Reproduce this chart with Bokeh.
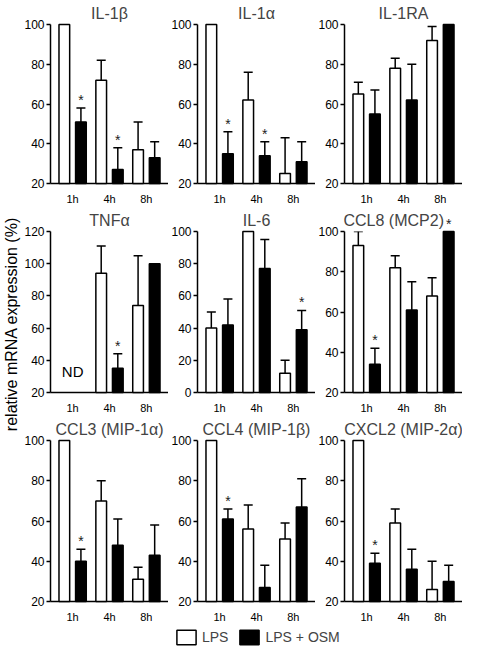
import math
from bokeh.plotting import figure
from bokeh.models import (ColumnDataSource, FactorRange, Range1d, FixedTicker,
                          Whisker, TeeHead, Legend, LegendItem, Title)
from bokeh.transform import dodge
from bokeh.layouts import column, row
from bokeh.core.properties import value
from bokeh.embed import file_html
from bokeh.resources import INLINE

nan = float("nan")

# ---------------- data ----------------
times = ["1h", "4h", "8h"]
genes = ["IL-1β", "IL-1α", "IL-1RA",
         "TNFα", "IL-6", "CCL8 (MCP2)",
         "CCL3 (MIP-1α)", "CCL4 (MIP-1β)", "CXCL2 (MIP-2α)"]

lps_mean = [[100, 72, 37], [100, 62, 25], [65, 78, 92],
            [nan, 94, 74], [40, 100, 12], [93, 82, 68],
            [100, 70, 31], [100, 56, 51], [100, 59, 26]]
lps_upper = [[nan, 82, 51], [nan, 76, 43], [71, 83, 99],
             [nan, 111, 105], [50, nan, 20], [100, 88, 77],
             [nan, 80, 37], [nan, 68, 59], [nan, 66, 40]]
osm_mean = [[51, 27, 33], [35, 34, 31], [55, 62, 100],
            [nan, 35, 100], [42, 77, 39], [34, 61, 100],
            [40, 48, 43], [61, 27, 67], [39, 36, 30]]
osm_upper = [[58, 38, 41], [46, 41, 41], [67, 80, nan],
             [nan, 44, nan], [58, 95, 51], [42, 75, nan],
             [46, 61, 58], [66, 38, 81], [44, 46, 38]]
osm_sig = [[1, 1, 0], [1, 1, 0], [0, 0, 0],
           [0, 1, 0], [0, 0, 1], [1, 0, 1],
           [1, 0, 0], [1, 0, 0], [1, 0, 0]]
y_min = [20, 20, 20, 20, 0, 20, 20, 20, 20]
y_max = [100, 100, 100, 120, 100, 100, 100, 100, 100]
y_step = 20

nd_gene_index = 3
nd_time = "1h"
nd_value = 33
nd_text = "ND"
sig_mark = "*"
series_labels = ["LPS", "LPS + OSM"]
y_title = "relative mRNA expression (%)"

# ---------------- style ----------------
FONT = "Liberation Sans"
FW, FH = 120, 167
LABEL_W = 21
BORDER_L = [27, 27, 27]
TOP = [22, 24, 24]
BOTTOM = 18
TITLE_ALIGN = ["center"] * 5 + ["left"] + ["center"] * 3
TITLE_OFFSET = [0, 0, 0, 0, 0, -1, 0, 0, 0]
OFF = 0.225
BW = 0.29
LW = 1.5


def fin(v):
    return v is not None and not (isinstance(v, float) and math.isnan(v))


def make_panel(i):
    r, c = divmod(i, 3)
    p = figure(width=BORDER_L[c] + FW, height=TOP[r] + FH + BOTTOM,
               x_range=FactorRange(factors=times, range_padding=0.1,
                                   range_padding_units="absolute"),
               y_range=Range1d(y_min[i], y_max[i]),
               output_backend="svg", toolbar_location=None,
               min_border_left=BORDER_L[c], min_border_right=0,
               min_border_top=TOP[r], min_border_bottom=BOTTOM,
               title=genes[i])
    p.title.text_font = FONT
    p.title.text_font_size = "16px"
    p.title.text_font_style = "normal"
    p.title.align = TITLE_ALIGN[i]
    p.title.standoff = 5
    p.title.offset = TITLE_OFFSET[i]
    p.xgrid.visible = False
    p.ygrid.visible = False
    p.outline_line_color = None
    p.background_fill_color = "white"

    for ax in (p.xaxis[0], p.yaxis[0]):
        ax.axis_line_color = "black"
        ax.axis_line_width = LW
        ax.minor_tick_line_color = None
        ax.major_label_text_font = FONT
        ax.major_label_text_color = "black"
    p.xaxis.major_tick_line_color = None
    p.xaxis.major_label_text_font_size = "11px"
    p.xaxis.major_label_standoff = 3
    p.yaxis.major_label_text_font_size = "12px"
    p.yaxis.major_tick_line_color = "black"
    p.yaxis.major_tick_line_width = LW
    p.yaxis.major_tick_in = 0
    p.yaxis.major_tick_out = 4
    p.yaxis.major_label_standoff = 2
    p.yaxis.ticker = FixedTicker(ticks=list(range(y_min[i], y_max[i] + 1, y_step)))

    for means, uppers, off, fill in ((lps_mean[i], lps_upper[i], -OFF, "white"),
                                     (osm_mean[i], osm_upper[i], OFF, "black")):
        bt = [t for t, m in zip(times, means) if fin(m)]
        bm = [m for m in means if fin(m)]
        src = ColumnDataSource(dict(t=bt, top=bm))
        p.vbar(x=dodge("t", off, range=p.x_range), top="top", bottom=y_min[i],
               width=BW, fill_color=fill, line_color="black", line_width=LW,
               source=src, level="overlay")
        wt = [t for t, m, u in zip(times, means, uppers) if fin(m) and fin(u)]
        wl = [m for m, u in zip(means, uppers) if fin(m) and fin(u)]
        wu = [u for m, u in zip(means, uppers) if fin(m) and fin(u)]
        if wt:
            wsrc = ColumnDataSource(dict(t=wt, lower=wl, upper=wu))
            w = Whisker(source=wsrc, base=dodge("t", off, range=p.x_range),
                        lower="lower", upper="upper", dimension="height",
                        line_color="black", line_width=LW,
                        upper_head=TeeHead(size=9, line_color="black", line_width=LW),
                        lower_head=None)
            p.add_layout(w)

    st, sy = [], []
    for t, m, u, s in zip(times, osm_mean[i], osm_upper[i], osm_sig[i]):
        if s:
            st.append(t)
            sy.append(u if fin(u) else m)
    if st:
        ssrc = ColumnDataSource(dict(t=st, y=sy, s=[sig_mark] * len(st)))
        p.text(x=dodge("t", OFF, range=p.x_range), y="y", text="s", source=ssrc,
               text_font=value(FONT), text_font_size="14px", text_color="#222222",
               text_align="center", text_baseline="bottom", level="overlay")

    if i == nd_gene_index:
        nsrc = ColumnDataSource(dict(t=[nd_time], y=[nd_value], s=[nd_text]))
        p.text(x="t", y="y", text="s", source=nsrc, text_font=value(FONT),
               text_font_size="15px", text_color="black",
               text_align="center", text_baseline="middle", level="overlay")
    return p


panels = [make_panel(i) for i in range(9)]
grid_w = sum(BORDER_L) + 3 * FW
rows_h = sum(p.height for p in panels[0::3])
LEG_H = 22

# legend strip
lf = figure(width=grid_w, height=LEG_H, x_range=Range1d(0, 1), y_range=Range1d(0, 1),
            output_backend="svg", toolbar_location=None, min_border=0,
            x_axis_location=None, y_axis_location=None)
lf.xgrid.visible = False
lf.ygrid.visible = False
lf.outline_line_color = None
r1 = lf.vbar(x=[nan], top=[nan], width=0.1, fill_color="white",
             line_color="black", line_width=LW)
r2 = lf.vbar(x=[nan], top=[nan], width=0.1, fill_color="black",
             line_color="black", line_width=LW)
legend = Legend(items=[LegendItem(label=series_labels[0], renderers=[r1]),
                       LegendItem(label=series_labels[1], renderers=[r2])],
                orientation="horizontal", location=(153, 1),
                glyph_width=24, glyph_height=18, label_height=18,
                label_text_font=FONT, label_text_font_size="14px",
                border_line_color=None, background_fill_alpha=0,
                padding=0, margin=0, spacing=9, label_standoff=4)
lf.add_layout(legend)

# shared y label strip
yl = figure(width=LABEL_W, height=rows_h + LEG_H, x_range=Range1d(0, 1),
            y_range=Range1d(0, 1), output_backend="svg", toolbar_location=None,
            min_border=0, x_axis_location=None, y_axis_location=None)
yl.xgrid.visible = False
yl.ygrid.visible = False
yl.outline_line_color = None
yl.add_layout(Title(text=y_title, align="center", text_font=FONT,
                    text_font_size="16px", text_font_style="normal",
                    text_color="black", standoff=0), "left")

grid = column(row(*panels[0:3]), row(*panels[3:6]), row(*panels[6:9]), lf)
layout = row(yl, grid)

with open("out.html", "w") as f:
    f.write(file_html(layout, INLINE))
